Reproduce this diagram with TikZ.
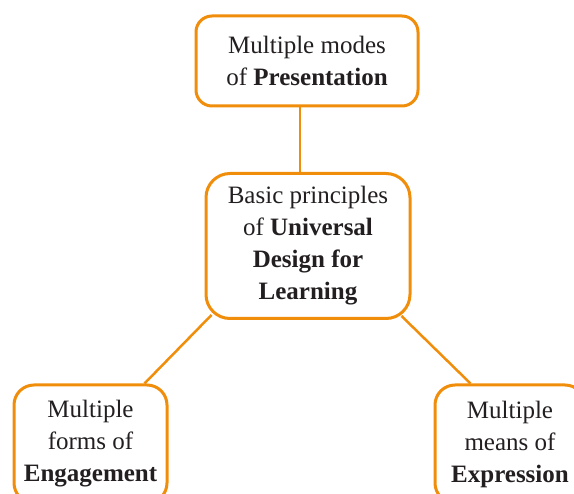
\documentclass[tikz,border=0pt]{standalone}
\usepackage{fontspec}
\setmainfont{Liberation Serif}
\usetikzlibrary{backgrounds}
\definecolor{udlorange}{RGB}{240,142,12}
\definecolor{udltext}{RGB}{35,31,32}

\begin{document}
\begin{tikzpicture}[x=1pt, y=-1pt,
    box/.style={draw=udlorange, line width=3pt, fill=white, rounded corners=16pt,
      align=center, text=udltext, inner sep=0pt, font=\fontsize{25}{32}\selectfont},
    link/.style={draw=udlorange, line width=2.5pt}]
    \clip (0, 0) rectangle (574, 494);

    \node [box, minimum width=222pt, minimum height=90pt] (pres) at (307, 61)
      {Multiple modes\\of \textbf{Presentation}};
    \node [box, minimum width=204pt, minimum height=145pt, rounded corners=24pt] (udl) at (308, 246)
      {Basic principles\\of \textbf{Universal}\\\textbf{Design for}\\\textbf{Learning}};
    \node [box, minimum width=153pt, minimum height=118pt, rounded corners=20pt] (eng) at (90.5, 444)
      {Multiple\\forms of\\\textbf{Engagement}};
    \node [box, minimum width=150pt, minimum height=118pt, rounded corners=20pt] (expr) at (510, 444)
      {Multiple\\means of\\\textbf{Expression}};

    \begin{scope}[on background layer]
      \draw [link] ([xshift=-7pt]pres.south) -- ([xshift=-8pt]udl.north);
      \draw [link] ([xshift=7pt, yshift=5pt]udl.south west) -- ([xshift=-24pt]eng.north east);
      \draw [link] ([xshift=-10pt, yshift=4pt]udl.south east) -- ([xshift=37pt]expr.north west);
    \end{scope}
\end{tikzpicture}
\end{document}
